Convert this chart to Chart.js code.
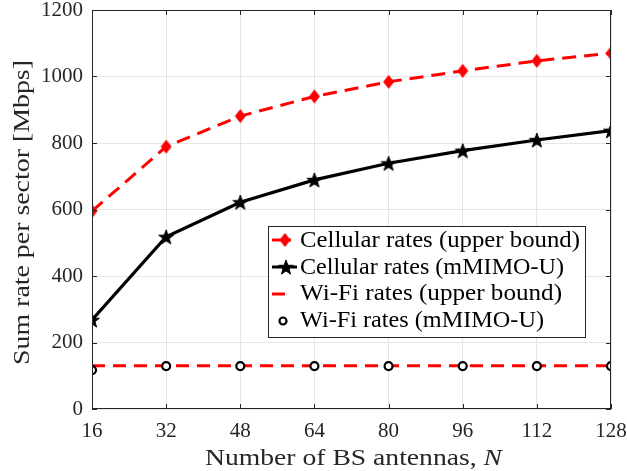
<!DOCTYPE html>
<html>
<head>
<meta charset="utf-8">
<script src="https://cdn.jsdelivr.net/npm/chart.js@4.4.1/dist/chart.umd.min.js"></script>
<style>
  html, body { margin: 0; padding: 0; background: #fff; }
  #wrap { width: 627px; height: 471px; }
</style>
</head>
<body>
<div id="wrap"><canvas id="chart" width="627" height="471"></canvas></div>
<script>
// values
var antennas = [16, 32, 48, 64, 80, 96, 112, 128];
var cellUpper = [595, 789, 881, 940, 984, 1017, 1047, 1070];
var cellMmimo = [268, 518, 622, 689, 739, 777, 809, 837];
var wifiUpper = [130, 130, 130, 130, 130, 130, 130, 130];
var wifiMmimo = [117, 129, 129, 129, 129, 129, 129, 129];
var xTicks = [16, 32, 48, 64, 80, 96, 112, 128];
var yTicks = [0, 200, 400, 600, 800, 1000, 1200];

var seriesNames = [
    'Cellular rates (upper bound)',
    'Cellular rates (mMIMO-U)',
    'Wi-Fi rates (upper bound)',
    'Wi-Fi rates (mMIMO-U)'
];

var FONT = '"Liberation Serif", "DejaVu Serif", serif';
var RED = '#ff0000';

function pts(ys) {
    return antennas.map(function (n, i) { return {x: n, y: ys[i]}; });
}

// filled five point star, like matlab 'p' marker
function starImage(r) {
    var c = document.createElement('canvas');
    var s = Math.ceil(2 * r + 4);
    c.width = s; c.height = s;
    var g = c.getContext('2d');
    g.translate(s / 2, s / 2 + r * 0.1);
    g.beginPath();
    for (var i = 0; i < 10; i++) {
        var rr = (i % 2 === 0) ? r : r * 0.4;
        var a = -Math.PI / 2 + i * Math.PI / 5;
        g.lineTo(rr * Math.cos(a), rr * Math.sin(a));
    }
    g.closePath();
    g.fillStyle = '#000';
    g.fill();
    g.lineWidth = 1;
    g.strokeStyle = '#000';
    g.stroke();
    return c;
}

// matlab 'd' marker is a bit taller than wide
function diamondImage(w, h) {
    var c = document.createElement('canvas');
    c.width = w + 2; c.height = h + 2;
    var g = c.getContext('2d');
    var cx = c.width / 2, cy = c.height / 2;
    g.beginPath();
    g.moveTo(cx, cy - h / 2);
    g.lineTo(cx + w / 2, cy);
    g.lineTo(cx, cy + h / 2);
    g.lineTo(cx - w / 2, cy);
    g.closePath();
    g.fillStyle = RED;
    g.fill();
    return c;
}

var star = starImage(7.8);
var diamond = diamondImage(11, 14);

// text squeezed/stretched to a given width (the original uses computer modern)
function fitText(ctx, txt, x, y, width) {
    var w = ctx.measureText(txt).width;
    ctx.save();
    ctx.translate(x, y);
    ctx.scale(width / w, 1);
    ctx.fillText(txt, 0, 0);
    ctx.restore();
}

var matlabFrame = {
    id: 'matlabFrame',
    afterDraw: function (chart) {
        var ctx = chart.ctx;
        var a = chart.chartArea;
        var xs = chart.scales.x, ys = chart.scales.y;
        ctx.save();
        // box with inward ticks
        ctx.strokeStyle = '#262626';
        ctx.lineWidth = 1;
        ctx.strokeRect(a.left + 0.5, a.top + 0.5, a.right - a.left - 1, a.bottom - a.top - 1);
        ctx.beginPath();
        xTicks.forEach(function (t) {
            var px = Math.round(xs.getPixelForValue(t)) + 0.5;
            ctx.moveTo(px, a.bottom); ctx.lineTo(px, a.bottom - 5);
            ctx.moveTo(px, a.top); ctx.lineTo(px, a.top + 5);
        });
        yTicks.forEach(function (t) {
            var py = Math.round(ys.getPixelForValue(t)) + 0.5;
            ctx.moveTo(a.left, py); ctx.lineTo(a.left + 5, py);
            ctx.moveTo(a.right, py); ctx.lineTo(a.right - 5, py);
        });
        ctx.stroke();

        // axis titles
        ctx.fillStyle = '#262626';
        ctx.textBaseline = 'alphabetic';
        ctx.textAlign = 'left';
        var t1 = 'Number of BS antennas, ';
        ctx.font = '23px ' + FONT;
        var w1 = ctx.measureText(t1).width;
        ctx.font = 'italic 23px ' + FONT;
        var w2 = ctx.measureText('N').width;
        var k = 297 / (w1 + w2);
        var sx = 205;
        ctx.save();
        ctx.translate(sx, 465);
        ctx.scale(k, 1);
        ctx.font = '23px ' + FONT;
        ctx.fillText(t1, 0, 0);
        ctx.font = 'italic 23px ' + FONT;
        ctx.fillText('N', w1, 0);
        ctx.restore();

        ctx.save();
        ctx.translate(29, 365);
        ctx.rotate(-Math.PI / 2);
        ctx.font = '23px ' + FONT;
        fitText(ctx, 'Sum rate per sector [Mbps]', 0, 0, 305);
        ctx.restore();

        // legend box
        var lx = 268, ly = 226, lw = 317, lh = 111;
        ctx.fillStyle = '#fff';
        ctx.fillRect(lx, ly, lw, lh);
        ctx.strokeStyle = '#262626';
        ctx.lineWidth = 1;
        ctx.strokeRect(lx + 0.5, ly + 0.5, lw, lh);
        var rows = [240, 267, 294, 321];
        var bases = [247, 273.5, 300, 326.5];
        var textW = [280, 264, 262, 244];
        ctx.font = '24px ' + FONT;
        ctx.textAlign = 'left';
        ctx.textBaseline = 'alphabetic';
        rows.forEach(function (ry, i) {
            var x0 = 272, x1 = 297, mx = 285;
            ctx.save();
            if (i === 0) {
                ctx.strokeStyle = RED; ctx.lineWidth = 3;
                ctx.beginPath(); ctx.moveTo(x0, ry); ctx.lineTo(x1 - 6, ry); ctx.stroke();
                ctx.drawImage(diamond, mx - diamond.width / 2, ry - diamond.height / 2);
            }
            if (i === 1) {
                ctx.strokeStyle = '#000'; ctx.lineWidth = 3;
                ctx.beginPath(); ctx.moveTo(x0, ry); ctx.lineTo(x1, ry); ctx.stroke();
                ctx.drawImage(star, mx + 1 - star.width / 2, ry - star.height / 2);
            }
            if (i === 2) {
                ctx.strokeStyle = RED; ctx.lineWidth = 3;
                ctx.beginPath(); ctx.moveTo(x0, ry); ctx.lineTo(x0 + 13, ry); ctx.stroke();
            }
            if (i === 3) {
                ctx.beginPath(); ctx.arc(mx - 2, ry, 3.5, 0, Math.PI * 2);
                ctx.fillStyle = '#fff'; ctx.fill();
                ctx.strokeStyle = '#000'; ctx.lineWidth = 2.2; ctx.stroke();
            }
            ctx.restore();
            ctx.fillStyle = '#000';
            fitText(ctx, seriesNames[i], 300, bases[i], textW[i]);
        });
        ctx.restore();
    }
};

new Chart(document.getElementById('chart'), {
    type: 'line',
    data: {
        datasets: [{
            label: seriesNames[2],
            data: pts(wifiUpper),
            borderColor: RED,
            borderWidth: 3,
            borderDash: [13, 8],
            pointRadius: 0,
            order: 4
        }, {
            label: seriesNames[3],
            data: pts(wifiMmimo),
            showLine: false,
            pointStyle: 'circle',
            pointRadius: 4,
            pointBorderWidth: 2.2,
            pointBorderColor: '#000',
            pointBackgroundColor: '#fff',
            order: 3
        }, {
            label: seriesNames[0],
            data: pts(cellUpper),
            borderColor: RED,
            borderWidth: 3,
            borderDash: [14, 8],
            pointStyle: diamond,
            order: 2
        }, {
            label: seriesNames[1],
            data: pts(cellMmimo),
            borderColor: '#000',
            borderWidth: 3.2,
            pointStyle: star,
            order: 1
        }]
    },
    options: {
        responsive: false,
        animation: false,
        events: [],
        layout: { padding: { top: 10, right: 16, left: 0, bottom: 0 } },
        plugins: {
            legend: { display: false },
            tooltip: { enabled: false }
        },
        scales: {
            x: {
                type: 'linear',
                min: 16, max: 128,
                afterBuildTicks: function (s) { s.ticks = xTicks.map(function (v) { return {value: v}; }); },
                afterFit: function (s) { s.height = 62; s.paddingLeft = 0; s.paddingRight = 0; },
                grid: { color: '#e6e6e6', lineWidth: 1, drawTicks: false },
                border: { display: false },
                ticks: {
                    color: '#262626', font: { family: FONT, size: 21 }, padding: 10, maxRotation: 0,
                    callback: function (v) { return String(v); }
                }
            },
            y: {
                min: 0, max: 1200,
                afterBuildTicks: function (s) { s.ticks = yTicks.map(function (v) { return {value: v}; }); },
                afterFit: function (s) { s.width = 92; s.paddingTop = 0; s.paddingBottom = 0; },
                grid: { color: '#e6e6e6', lineWidth: 1, drawTicks: false },
                border: { display: false },
                ticks: {
                    color: '#262626', font: { family: FONT, size: 21 }, padding: 9,
                    callback: function (v) { return String(v); }
                }
            }
        }
    },
    plugins: [matlabFrame]
});
</script>
</body>
</html>
